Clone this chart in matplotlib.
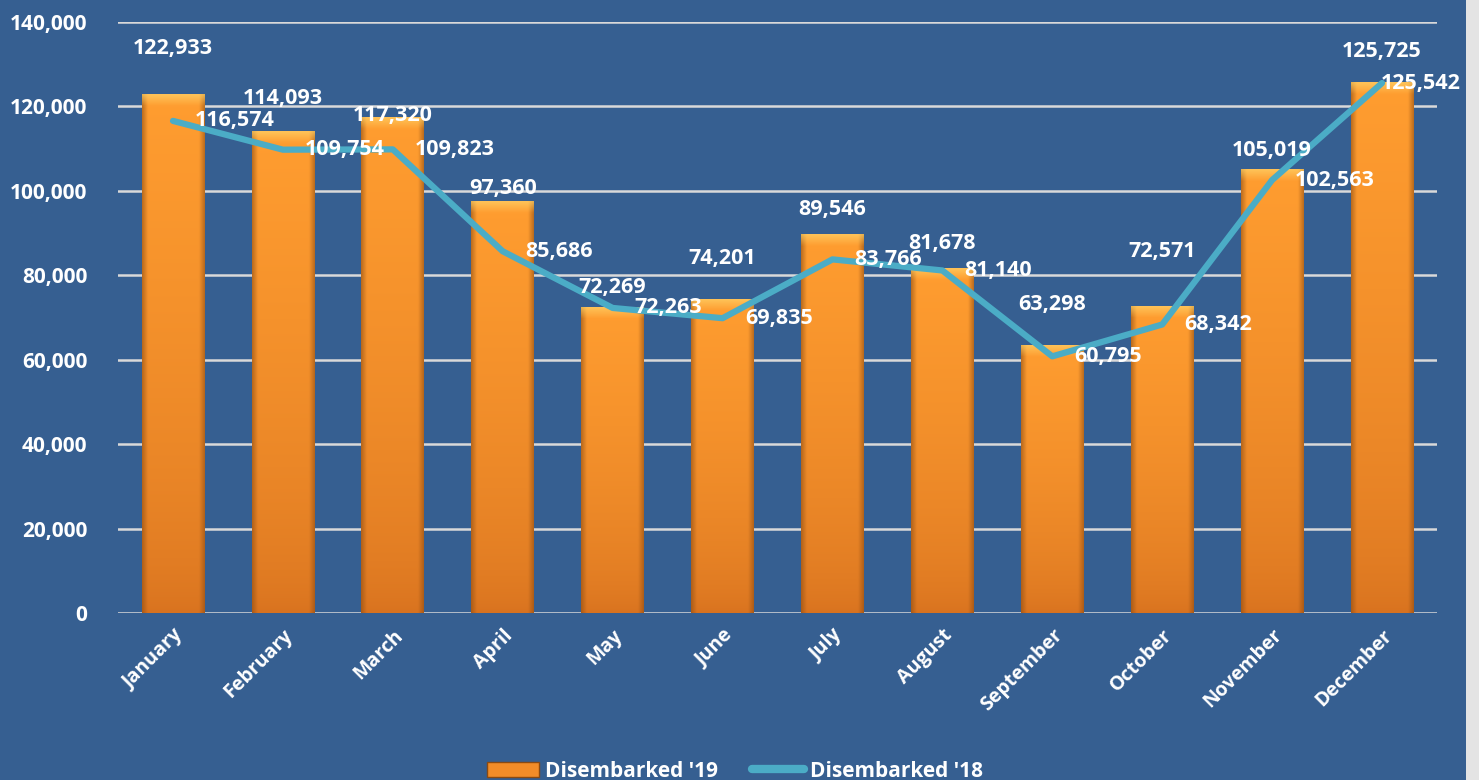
import numpy as np
import matplotlib
matplotlib.use("Agg")
from matplotlib import pyplot as plt
from matplotlib.patches import Patch, Rectangle
from matplotlib.lines import Line2D
from matplotlib.colors import to_rgb

plt.rcParams['font.family'] = ['Open Sans', 'DejaVu Sans']

# data
months = ['January', 'February', 'March', 'April', 'May', 'June', 'July',
          'August', 'September', 'October', 'November', 'December']
disembarked_19 = [122933, 114093, 117320, 97360, 72269, 74201, 89546,
                  81678, 63298, 72571, 105019, 125725]
disembarked_18 = [116574, 109754, 109823, 85686, 72263, 69835, 83766,
                  81140, 60795, 68342, 102563, 125542]
y_ticks = [0, 20000, 40000, 60000, 80000, 100000, 120000, 140000]

# label nudges (points) - excel had them hand placed
bar_label_dy = [33, 24, 1.5, 10, 15, 30, 18, 18, 30, 40, 14, 22]
line_label_dx = [16, 16, 16, 16, 16, 16, 16, 16, 16, 16, 16, -1]

bg = '#365F91'
grid_col = '#D9D9D9'
line_col = '#4BACC6'

fig = plt.figure(figsize=(14.79, 7.8), dpi=100, facecolor=bg)
ax = fig.add_axes([0.0798, 0.2141, 0.8918, 0.7577])
ax.set_facecolor(bg)

x = np.arange(len(months))
width = 0.57
ax.set_xlim(-0.5, len(months) - 0.5)
ax.set_ylim(0, 140000)

for t in y_ticks:
  ax.axhline(t, color=grid_col, lw=1.8, zorder=1)

#gradient bars
bottom_c = np.array(to_rgb('#D8721F'))
top_c = np.array(to_rgb('#FF9D30'))
edge_c = np.array(to_rgb('#8A4A12'))
bevel_c = np.array(to_rgb('#FFDA70'))
ny, nx = 200, 60
bevel_h = 2600.0
for i, v in enumerate(disembarked_19):
  t = np.linspace(0, 1, ny)[:, None]
  col = bottom_c + (top_c - bottom_c) * t ** 0.6
  img = np.repeat(col[:, None, :], nx, axis=1)
  u = np.abs(np.linspace(-1, 1, nx))
  shade = np.clip((u - 0.82) / 0.18, 0, 1)[None, :, None]
  img = img * (1 - shade * 0.55) + edge_c * shade * 0.55
  # top bevel
  yy = np.linspace(0, v, ny)[:, None]
  bev = np.clip((yy - (v - bevel_h)) / bevel_h, 0, 1)[:, :, None]
  img = img * (1 - bev * 0.6) + bevel_c * bev * 0.6
  img = img[::-1]
  ax.imshow(img, extent=[x[i] - width / 2, x[i] + width / 2, 0, v],
            aspect='auto', zorder=2, interpolation='bilinear')
  ax.annotate(format(v, ','), (x[i], v), xytext=(0, bar_label_dy[i]),
              textcoords='offset points', ha='center', va='center',
              color='white', fontsize=15.5, fontweight='bold', zorder=5)

ax.plot(x, disembarked_18, color=line_col, lw=4.5, zorder=3,
        solid_capstyle='round', solid_joinstyle='round')
for i, v in enumerate(disembarked_18):
  ax.annotate(format(v, ','), (x[i], v), xytext=(line_label_dx[i], 0),
              textcoords='offset points', ha='left', va='center',
              color='white', fontsize=15.5, fontweight='bold', zorder=6)

ax.set_yticks(y_ticks)
ax.set_yticklabels([format(t, ',') for t in y_ticks], color='white',
                   fontsize=15, fontweight='bold')
ax.set_xticks(x)
ax.set_xticklabels(months, rotation=45, ha='right', rotation_mode='anchor',
                   color='white', fontsize=14, fontweight='bold')
ax.tick_params(axis='y', length=0, pad=22)
ax.tick_params(axis='x', length=0, pad=9)
for s in ax.spines.values():
  s.set_visible(False)

handles = [Patch(facecolor='#F28C28', edgecolor='#8A4A12', lw=1),
           Line2D([0], [0], color=line_col, lw=6, solid_capstyle='round')]
leg = fig.legend(handles, ["Disembarked '19", "Disembarked '18"],
                 loc='lower center', bbox_to_anchor=(0.497, -0.026), ncol=2,
                 frameon=False, fontsize=15, handlelength=2.5,
                 columnspacing=1.6, handletextpad=0.3)
for t in leg.get_texts():
  t.set_color('white')
  t.set_fontweight('bold')

# grey photo strip on the right edge
fig.patches.append(Rectangle((0.9912, 0), 0.0088, 1, transform=fig.transFigure,
                             facecolor='#E4E4E4', edgecolor='none'))

fig.savefig('out.png', dpi=100, facecolor=bg)
